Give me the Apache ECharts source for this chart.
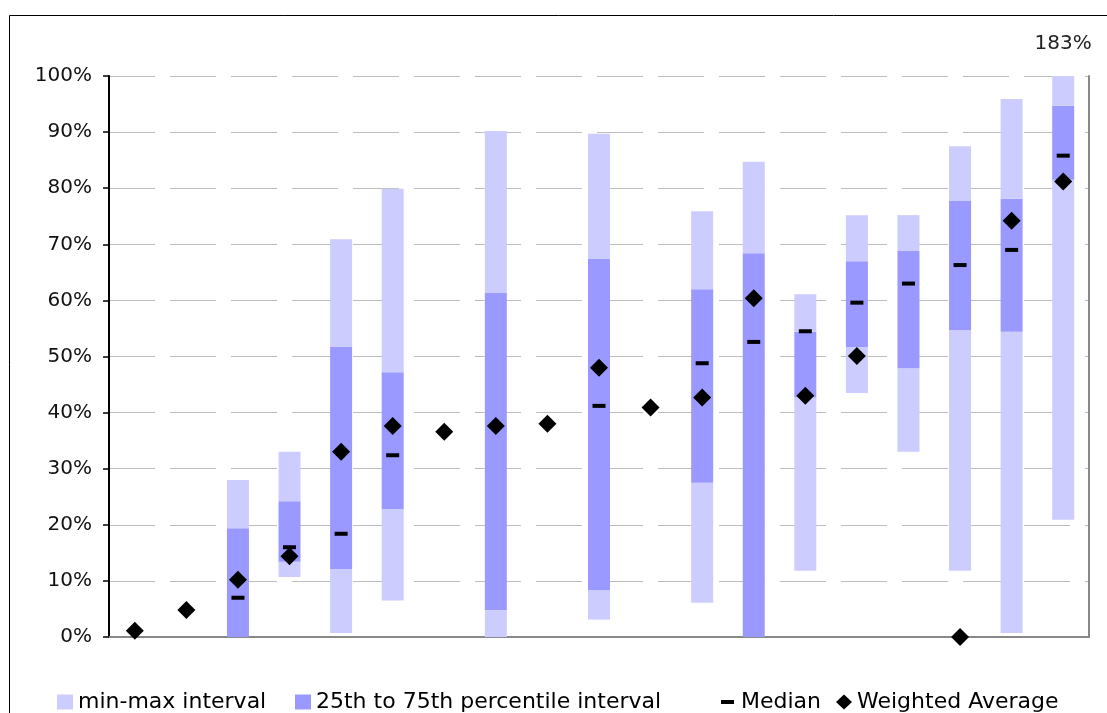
<!DOCTYPE html>
<html>
<head>
<meta charset="utf-8">
<script src="https://cdn.jsdelivr.net/npm/echarts@6/dist/echarts.min.js"></script>
<style>
  html, body { margin: 0; padding: 0; background: #fff; }
  #chart { width: 1107px; height: 713px; }
</style>
</head>
<body>
<div id="chart"></div>
<script>
// 19 groups, no category labels on the axis
const categories = ['1', '2', '3', '4', '5', '6', '7', '8', '9', '10', '11', '12', '13', '14', '15', '16', '17', '18', '19']

// values in %
const minVals = [null, null, 0, 10.7, 0.7, 6.5, null, 0, null, 3.1, null, 6.1, 0, 11.8, 43.5, 33.0, 11.8, 0.7, 20.9]
const q1Vals = [null, null, 0, 13.4, 12.1, 22.8, null, 4.8, null, 8.4, null, 27.5, 0, 42.7, 51.7, 47.9, 54.7, 54.4, 81.5]
const q3Vals = [null, null, 19.4, 24.2, 51.7, 47.2, null, 61.3, null, 67.4, null, 62.0, 68.4, 54.4, 67.0, 68.8, 77.7, 78.1, 94.7]
const maxVals = [null, null, 28.0, 33.0, 70.9, 79.9, null, 90.2, null, 89.7, null, 75.9, 84.7, 61.1, 75.2, 75.2, 87.5, 95.9, 183]
const medianVals = [null, null, 7.0, 16.0, 18.4, 32.4, null, null, null, 41.2, null, 48.8, 52.6, 54.5, 59.6, 63.0, 66.3, 69.0, 85.8]
const avgVals = [1.1, 4.8, 10.2, 14.4, 33.0, 37.6, 36.6, 37.6, 38.0, 48.0, 40.9, 42.7, 60.4, 43.0, 50.1, null, 0, 74.2, 81.2]

const yTicks = { min: 0, max: 100, interval: 10 }

const LIGHT = '#ccccff'
const DARK = '#9999ff'
const FONT = 'DejaVu Sans'

const diff = (a, b) => a.map((v, i) => (v === null || b[i] === null ? null : +(v - b[i]).toFixed(2)))

const loData = diff(q1Vals, minVals)
const iqrData = diff(q3Vals, q1Vals)
const hiData = diff(maxVals, q3Vals).map((v, i) => {
  if (maxVals[i] !== null && maxVals[i] > yTicks.max) {
    return {
      value: v,
      label: {
        show: true,
        position: 'top',
        distance: 22,
        formatter: maxVals[i] + '%',
        color: '#222',
        fontFamily: FONT,
        fontSize: 20
      }
    }
  }
  return v
})

const chart = echarts.init(document.getElementById('chart'), null, { renderer: 'canvas' })

const legendBase = {
  top: 686,
  itemWidth: 16,
  itemHeight: 15,
  itemGap: 0,
  selectedMode: false,
  textStyle: { fontFamily: FONT, fontSize: 22, color: '#000' }
}

const option = {
  animation: false,
  backgroundColor: '#fff',
  graphic: [{
    type: 'rect',
    silent: true,
    shape: { x: 9.5, y: 15.5, width: 1200, height: 800 },
    style: { fill: 'none', stroke: '#000', lineWidth: 1 }
  }],
  grid: { left: 109, right: 18, top: 76, bottom: 76 },
  legend: [
    Object.assign({}, legendBase, { left: 52, data: [{ name: 'min-max interval', icon: 'rect' }] }),
    Object.assign({}, legendBase, { left: 290, data: [{ name: '25th to 75th percentile interval', icon: 'rect' }] }),
    Object.assign({}, legendBase, { left: 715, data: [{ name: 'Median', icon: 'path://M0,0 M16,15 M1,5.5 L14,5.5 L14,9.5 L1,9.5 Z' }] }),
    Object.assign({}, legendBase, { left: 831, data: [{ name: 'Weighted Average', icon: 'diamond' }] })
  ],
  xAxis: [{
    type: 'category',
    data: categories,
    axisLine: { lineStyle: { color: '#888', width: 2 } },
    axisTick: { show: false },
    axisLabel: { show: false },
    splitLine: { show: false }
  }, {
    type: 'category',
    position: 'top',
    data: categories,
    axisLine: { lineStyle: { color: '#888', width: 2 } },
    axisTick: { show: false },
    axisLabel: { show: false }
  }],
  yAxis: [{
    type: 'value',
    min: yTicks.min,
    max: yTicks.max,
    interval: yTicks.interval,
    axisLine: { show: true, lineStyle: { color: '#000', width: 2 } },
    axisTick: { show: true, inside: false, length: 6, lineStyle: { color: '#000', width: 1.5 } },
    axisLabel: {
      margin: 17,
      formatter: '{value}%',
      color: '#111',
      fontFamily: FONT,
      fontSize: 20
    },
    splitLine: {
      show: true,
      lineStyle: { color: '#bdbdbd', width: 1.2, type: [46, 15], dashOffset: 0 }
    }
  }, {
    type: 'value',
    position: 'right',
    min: yTicks.min,
    max: yTicks.max,
    interval: yTicks.interval,
    axisLine: { show: true, lineStyle: { color: '#888', width: 2 } },
    axisTick: { show: false },
    axisLabel: { show: false },
    splitLine: { show: false }
  }],
  series: [
    {
      name: 'base',
      type: 'bar',
      stack: 'range',
      barWidth: 22,
      itemStyle: { color: 'transparent' },
      data: minVals
    },
    {
      name: 'min-max interval',
      type: 'bar',
      stack: 'range',
      barWidth: 22,
      itemStyle: { color: LIGHT },
      data: loData
    },
    {
      name: '25th to 75th percentile interval',
      type: 'bar',
      stack: 'range',
      barWidth: 22,
      itemStyle: { color: DARK },
      data: iqrData
    },
    {
      name: 'min-max interval',
      type: 'bar',
      stack: 'range',
      barWidth: 22,
      itemStyle: { color: LIGHT },
      data: hiData
    },
    {
      name: 'Median',
      type: 'scatter',
      symbol: 'rect',
      symbolSize: [13, 4],
      itemStyle: { color: '#000', opacity: 1 },
      z: 3,
      data: medianVals
    },
    {
      name: 'Weighted Average',
      type: 'scatter',
      symbol: 'diamond',
      symbolSize: 18,
      itemStyle: { color: '#000', opacity: 1 },
      z: 4,
      data: avgVals
    }
  ]
}

chart.setOption(option)

window.addEventListener('resize', () => chart.resize())
</script>
</body>
</html>
